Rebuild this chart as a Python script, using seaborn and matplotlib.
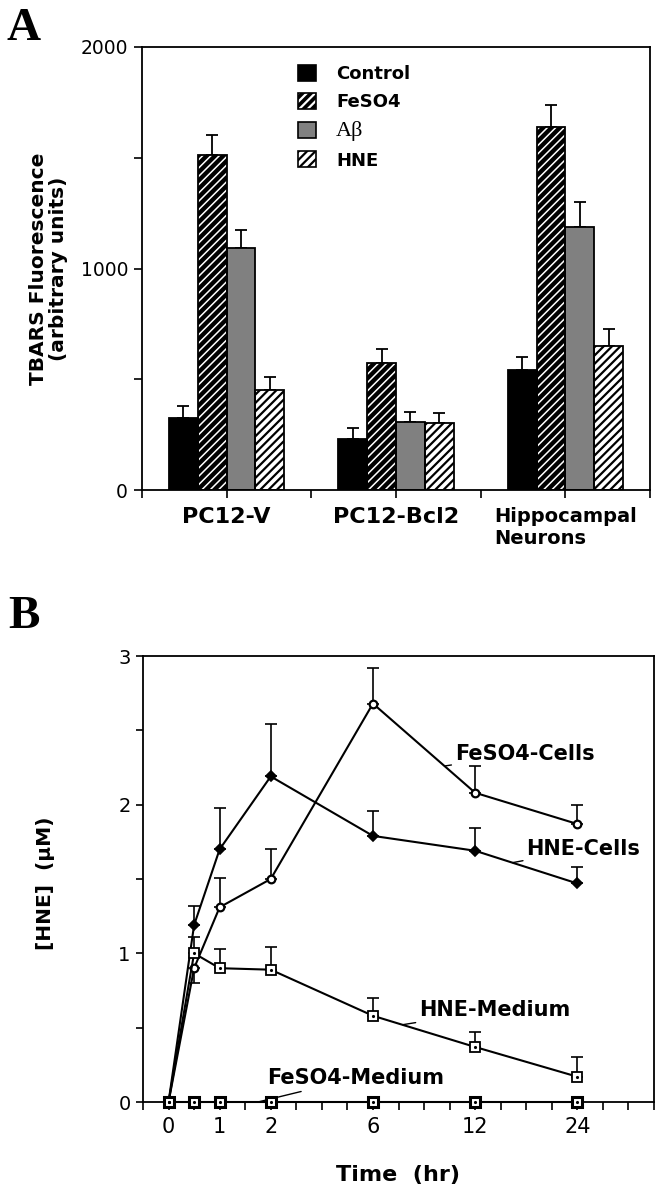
# Two-panel figure: TBARS bars (A) and HNE time course (B)
import numpy as np
import pandas as pd
import seaborn as sns
import matplotlib
matplotlib.use('Agg')
import matplotlib.pyplot as plt
from matplotlib.patches import Patch, Rectangle
from matplotlib.legend_handler import HandlerTuple

# Panel A data
cell_types = ['PC12-V', 'PC12-Bcl2', 'Hippocampal\nNeurons']
treatments = ['Control', 'FeSO4', 'Aβ', 'HNE']
control_mean = [327, 232, 542]
control_sem = [50, 47, 60]
feso4_mean = [1511, 572, 1639]
feso4_sem = [91, 64, 99]
abeta_mean = [1093, 307, 1189]
abeta_sem = [80, 45, 112]
hne_mean = [452, 301, 651]
hne_sem = [56, 48, 75]

# Panel B data
time_hr = [0, 0.5, 1, 2, 6, 12, 24]
time_ticks = [0, 1, 2, 6, 12, 24]
hne_cells = [0, 1.19, 1.70, 2.19, 1.79, 1.69, 1.47]
hne_cells_err = [0, 0.13, 0.28, 0.35, 0.17, 0.15, 0.11]
feso4_cells = [0, 0.90, 1.31, 1.50, 2.68, 2.08, 1.87]
feso4_cells_err_lo = [0, 0.10, 0, 0, 0, 0, 0]
feso4_cells_err_hi = [0, 0, 0.20, 0.20, 0.24, 0.18, 0.13]
hne_medium = [0, 1.00, 0.90, 0.89, 0.58, 0.37, 0.17]
hne_medium_err = [0, 0.11, 0.13, 0.15, 0.12, 0.10, 0.13]
feso4_medium = [0, 0, 0, 0, 0, 0, 0]

sns.set_style('ticks')
plt.rcParams['font.family'] = ['DejaVu Sans']
plt.rcParams['hatch.linewidth'] = 1.6
plt.rcParams['axes.linewidth'] = 1.3
for key in ['text.color', 'axes.labelcolor', 'xtick.color', 'ytick.color', 'axes.edgecolor']:
    plt.rcParams[key] = 'black'

fig = plt.figure(figsize=(6.64, 12), dpi=100)

# ---------------- Panel A ----------------
ax_a = fig.add_axes([142/664, 1-490/1200, (650-142)/664, (490-47)/1200])

rows = []
for t, means in zip(treatments, [control_mean, feso4_mean, abeta_mean, hne_mean]):
    for c, m in zip(cell_types, means):
        rows.append({'cell': c, 'treatment': t, 'tbars': m})
df_a = pd.DataFrame(rows)

sns.barplot(data=df_a, x='cell', y='tbars', hue='treatment', order=cell_types,
            hue_order=treatments, palette=['black', 'black', '#808080', 'white'],
            width=0.68, gap=0, errorbar=None, legend=False, ax=ax_a)

styles = {
    'Control': dict(fc='black', hatch=None, hc='black', hlw=1.0),
    'FeSO4': dict(fc='black', hatch='////', hc='white', hlw=1.1),
    'Aβ': dict(fc='#808080', hatch=None, hc='#808080', hlw=1.0),
    'HNE': dict(fc='white', hatch='////', hc='black', hlw=1.6),
}
sems = [control_sem, feso4_sem, abeta_sem, hne_sem]
means_all = [control_mean, feso4_mean, abeta_mean, hne_mean]

for cont, t, sem, mean in zip(ax_a.containers, treatments, sems, means_all):
    st = styles[t]
    xs = []
    for bar in cont:
        bar.set_facecolor(st['fc'])
        bar.set_edgecolor(st['hc'])
        bar.set_linewidth(0)
        if st['hatch']:
            bar.set_hatch(st['hatch'])
            if hasattr(bar, 'set_hatch_linewidth'):
                bar.set_hatch_linewidth(st['hlw'])
        bar.set_zorder(2)
        ax_a.add_patch(Rectangle(bar.get_xy(), bar.get_width(), bar.get_height(),
                                 fill=False, edgecolor='black', linewidth=1.3, zorder=3))
        xs.append(bar.get_x() + bar.get_width() / 2)
    ax_a.errorbar(xs, mean, yerr=[np.zeros(len(sem)), sem], fmt='none', ecolor='black',
                  elinewidth=1.3, capsize=4.3, capthick=1.3, zorder=1)

ax_a.set_ylim(0, 2000)
ax_a.set_xlim(-0.5, 2.5)
ax_a.set_yticks([0, 1000, 2000])
ax_a.set_yticks([500, 1500], minor=True)
ax_a.set_xticks([-0.5, 0.5, 1.5, 2.5], minor=True)
ax_a.tick_params(axis='y', which='both', direction='out', length=6, width=1.2,
                 labelsize=13.5, pad=4)
ax_a.tick_params(axis='x', which='both', direction='out', length=6, width=1.2, pad=6)
for lab in ax_a.get_xticklabels():
    lab.set_fontweight('bold')
    lab.set_fontsize(14 if 'Neurons' in lab.get_text() else 16)
    lab.set_multialignment('left')
    lab.set_verticalalignment('top')
ax_a.set_xlabel('')
ax_a.set_ylabel('TBARS Fluorescence\n(arbitrary units)', fontsize=14.5,
                fontweight='bold', linespacing=1.05)
ax_a.yaxis.set_label_coords(-0.146, 0.5)
for s in ax_a.spines.values():
    s.set_visible(True)
    s.set_linewidth(1.3)

handles = []
for t in treatments:
    st = styles[t]
    fill = Patch(facecolor=st['fc'], edgecolor=st['hc'], hatch=st['hatch'], linewidth=0)
    edge = Patch(fill=False, edgecolor='black', linewidth=1.2)
    handles.append((fill, edge))
leg = ax_a.legend(handles, treatments, handler_map={tuple: HandlerTuple()},
                  loc='upper left', bbox_to_anchor=(298/664, 1-65/1200),
                  bbox_transform=fig.transFigure, frameon=False,
                  handlelength=1.0, handleheight=1.0, handletextpad=1.1,
                  labelspacing=0.55, borderpad=0, borderaxespad=0,
                  prop={'size': 13, 'weight': 'bold'})
for txt in leg.get_texts():
    if txt.get_text() == 'Aβ':
        txt.set_fontfamily('Liberation Serif')
        txt.set_fontweight('normal')
        txt.set_fontsize(16)

# ---------------- Panel B ----------------
ax_b = fig.add_axes([143/664, 1-1102/1200, (654-143)/664, (1102-656)/1200])

# piecewise time axis: 0,1,2 one unit apart, then 6,12,24 two units apart
knots_hr = [-1, 0, 1, 2, 6, 12, 24, 36]
knots_pos = [-1, 0, 1, 2, 4, 6, 8, 10]


def fwd(h):
    return np.interp(h, knots_hr, knots_pos)


def inv(p):
    return np.interp(p, knots_pos, knots_hr)


series = [
    (feso4_cells, 'o', 5.5, 'white', 1.6),
    (hne_cells, 'D', 5.5, 'black', 1.2),
    (hne_medium, 's', 7.5, 'white', 1.3),
    (feso4_medium, 's', 7, 'white', 2.2),
]
for vals, mk, ms, mfc, mew in series:
    sns.lineplot(x=time_hr, y=vals, ax=ax_b, color='black', linewidth=1.5,
                 marker=mk, markersize=ms, markerfacecolor=mfc,
                 markeredgecolor='black', markeredgewidth=mew,
                 errorbar=None, clip_on=False, zorder=4)
    if mk == 's':
        ax_b.plot(time_hr, vals, ls='none', marker='.', ms=2.5, color='black',
                  clip_on=False, zorder=5)

eb = dict(fmt='none', ecolor='black', elinewidth=1.2, capsize=4.3, capthick=1.2, zorder=3)
ax_b.errorbar(time_hr, hne_cells, yerr=[np.zeros(len(time_hr)), hne_cells_err], **eb)
ax_b.errorbar(time_hr, feso4_cells, yerr=[feso4_cells_err_lo, feso4_cells_err_hi], **eb)
ax_b.errorbar(time_hr, hne_medium, yerr=[np.zeros(len(time_hr)), hne_medium_err], **eb)

ax_b.set_xscale('function', functions=(fwd, inv))
ax_b.set_xlim(inv(-0.5), inv(9.5))
ax_b.set_xticks(time_ticks)
ax_b.set_xticklabels([str(t) for t in time_ticks])
ax_b.set_xticks(inv(np.arange(-0.5, 9.6, 0.5)), minor=True)
ax_b.set_ylim(0, 3)
ax_b.set_yticks([0, 1, 2, 3])
ax_b.set_yticks([0.5, 1.5, 2.5], minor=True)
ax_b.tick_params(axis='x', which='both', direction='out', length=6, width=1.2,
                 labelsize=15, pad=5)
ax_b.tick_params(axis='y', which='both', direction='out', length=5, width=1.2,
                 labelsize=14, pad=4)
ax_b.set_xlabel('Time  (hr)', fontsize=16, fontweight='bold', labelpad=20)
ax_b.set_ylabel('[HNE]  (μM)', fontsize=14.5, fontweight='bold')
ax_b.yaxis.set_label_coords(-0.172, 0.49)
for s in ax_b.spines.values():
    s.set_visible(True)
    s.set_linewidth(1.3)

lead = dict(arrowstyle='-', color='black', lw=1.0, shrinkA=0, shrinkB=0)
ax_b.annotate('FeSO4-Cells', xy=(10.2, 2.26), xytext=(10.8, 2.34), fontsize=15,
              fontweight='bold', ha='left', va='center', arrowprops=lead)
ax_b.annotate('HNE-Cells', xy=(16.4, 1.61), xytext=(18.0, 1.70), fontsize=15,
              fontweight='bold', ha='left', va='center', arrowprops=lead)
ax_b.annotate('HNE-Medium', xy=(7.75, 0.52), xytext=(8.7, 0.62), fontsize=15,
              fontweight='bold', ha='left', va='center', arrowprops=lead)
ax_b.annotate('FeSO4-Medium', xy=(1.75, 0.0), xytext=(1.93, 0.16), fontsize=15,
              fontweight='bold', ha='left', va='center', arrowprops=lead)

# panel letters
fig.text(7/664, 1-40/1200, 'A', family='Liberation Serif', fontweight='bold',
         fontsize=34, va='baseline')
fig.text(8/664, 1-628/1200, 'B', family='Liberation Serif', fontweight='bold',
         fontsize=34, va='baseline')

fig.savefig('out.png', dpi=100)
